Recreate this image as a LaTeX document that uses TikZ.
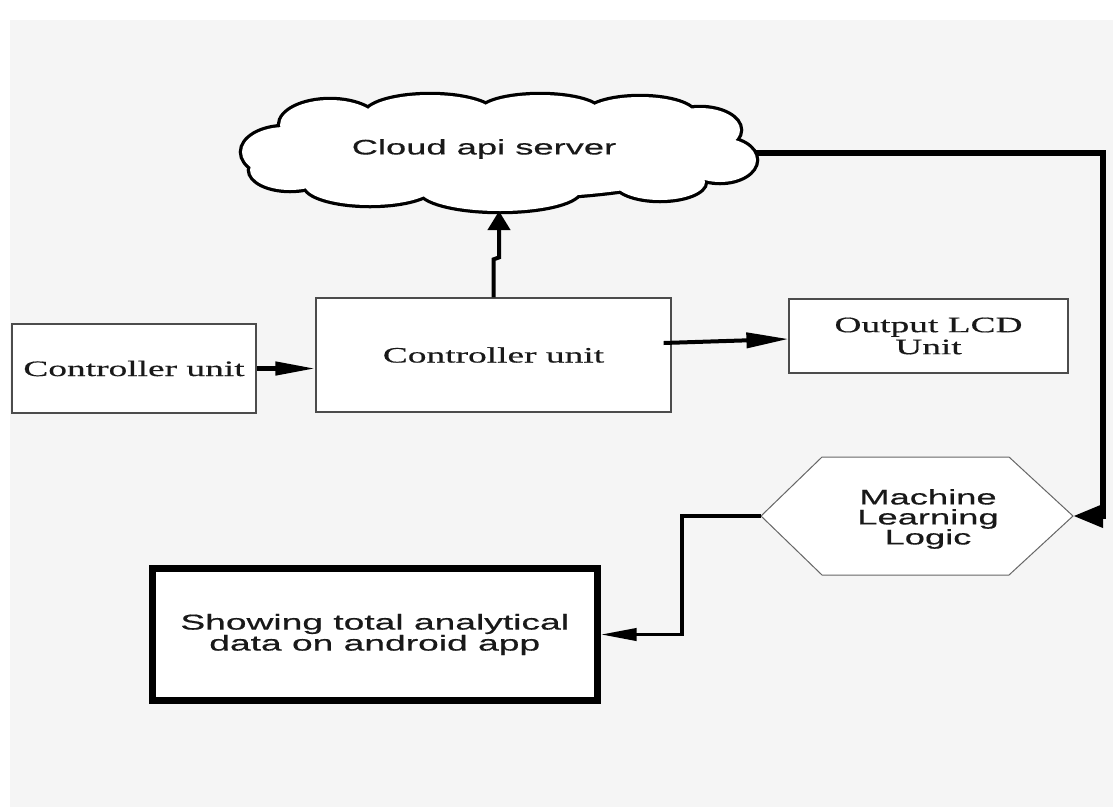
\documentclass[tikz,border=0pt]{standalone}
\usepackage{fontspec}
\newfontfamily\sfw[FakeStretch=1.73,FakeBold=0.5]{Liberation Sans}
\newfontfamily\rmw[FakeStretch=1.7,FakeBold=0.5]{Liberation Serif}
\usetikzlibrary{arrows.meta}
\definecolor{bgc}{HTML}{F5F5F5}
\begin{document}
\begin{tikzpicture}[x=1pt,y=-1pt,
  box/.style={draw=black!70, line width=1.2pt, fill=white, inner sep=0pt},
  sertext/.style={font=\rmw\fontsize{22}{22}\selectfont, align=center, text=black!90},
  santext/.style={font=\sfw\fontsize{21}{20}\selectfont, align=center, text=black!90},
  conn/.style={line width=4pt},
  ghost/.style={inner sep=0pt, outer sep=0pt}
  ]
\useasboundingbox (0,0) rectangle (1113,807);
\fill[white] (0,0) rectangle (1113,807);
\fill[bgc] (10,20) rectangle (1113,807);

% cloud outline as union of ellipses
\foreach \cx/\cy/\rx/\ry in {285/152/43/25, 330/125/50/25, 430/115/65/20, 540/112/60/17, 640/115/55/18, 700/130/40/22, 720/160/36/22, 660/182/45/18, 500/190/80/21, 370/185/65/20, 290/170/40/20, 499/153/220/45}
  \draw[line width=6.5pt] (\cx,\cy) ellipse [x radius=\rx pt, y radius=\ry pt];
\foreach \cx/\cy/\rx/\ry in {285/152/43/25, 330/125/50/25, 430/115/65/20, 540/112/60/17, 640/115/55/18, 700/130/40/22, 720/160/36/22, 660/182/45/18, 500/190/80/21, 370/185/65/20, 290/170/40/20, 499/153/220/45}
  \fill[white] (\cx,\cy) ellipse [x radius=\rx pt, y radius=\ry pt];
\node[ghost, minimum width=514pt, minimum height=116pt] (cloud) at (499,153) {};
\node[santext] (cloudtxt) at (484,149) {Cloud api server};

% boxes
\node[box, sertext, minimum width=244pt, minimum height=89pt] (left) at (134,368.5) {Controller unit};
\node[box, sertext, minimum width=355pt, minimum height=114pt] (mid) at (493.5,355) {Controller unit};
\node[box, sertext, minimum width=279pt, minimum height=74pt] (lcd) at (928.5,336) {Output LCD\\Unit};

% hexagon
\node[ghost, minimum width=312pt, minimum height=118pt] (ml) at (917,516) {};
\draw[black!60, line width=1pt, fill=white] (ml.west) -- ([xshift=61pt]ml.north west) -- ([xshift=-64pt]ml.north east) -- (ml.east) -- ([xshift=-64pt]ml.south east) -- ([xshift=61pt]ml.south west) -- cycle;
\node[santext] (mltxt) at (928,519) {Machine\\Learning\\Logic};

% android box
\node[draw=black, line width=7pt, fill=white, inner sep=0pt, minimum width=444.5pt, minimum height=132pt,
  font=\sfw\fontsize{21.5}{21}\selectfont, align=center, text=black!90] (app) at (374.75,634.5) {Showing total analytical\\data on android app};

% connectors
\draw[conn, -{Triangle[length=19pt,width=22pt]}] (mid.north) -- ++(0,-38) -- ++(5.5,-2) -- (cloud.south);
\draw[conn, line width=4.5pt, -{Triangle[length=40pt,width=13pt]}] (left.east) -- (left.east -| mid.west);
\draw[conn, -{Triangle[length=42pt,width=15pt]}] ([xshift=-8pt,yshift=12pt]mid.east) -- ([yshift=-3pt]lcd.west);
\coordinate (rc) at (1103,153);
\draw[line width=6.5pt, -{Triangle[length=30pt,width=22pt]}] (cloud.east) -- (rc) |- (ml.east);
\coordinate (lt) at (682,516);
\draw[line width=3.8pt, -{Triangle[length=36pt,width=12pt]}] (ml.west) -- (lt) |- (app.east);
\end{tikzpicture}
\end{document}
